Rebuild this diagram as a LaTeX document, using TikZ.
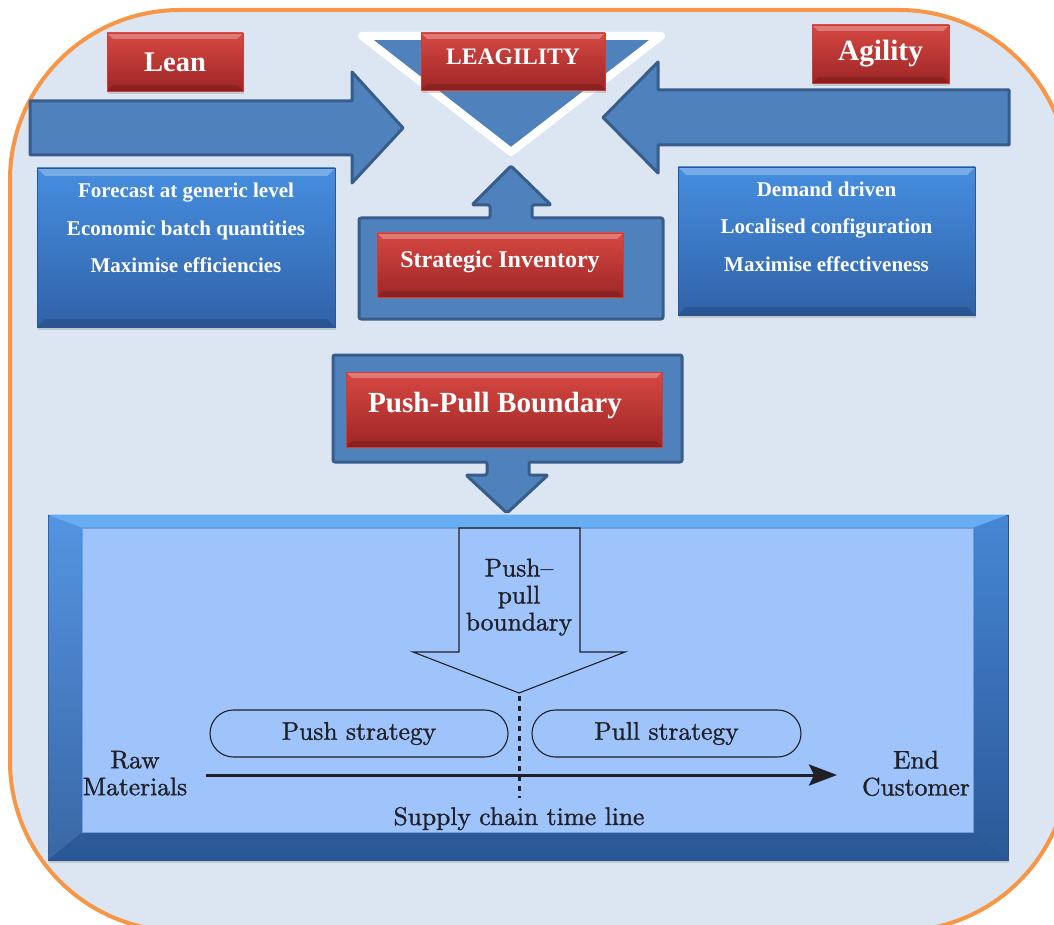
\documentclass[tikz,border=0pt]{standalone}
\usepackage{fontspec}
\newfontfamily\headfont{Liberation Serif}
\newfontfamily\diagfont[FakeBold=1.2]{lmroman10-regular.otf}
\usetikzlibrary{shadows,arrows.meta}

\definecolor{pagebg}{RGB}{220,230,242}
\definecolor{frameorange}{RGB}{247,150,70}
\definecolor{arrowblue}{RGB}{79,129,189}
\definecolor{arrowedge}{RGB}{56,93,138}
\definecolor{redtop}{RGB}{214,72,66}
\definecolor{redbot}{RGB}{158,38,38}
\definecolor{rededge}{RGB}{205,62,58}
\definecolor{bluetop}{RGB}{70,142,224}
\definecolor{bluebot}{RGB}{48,98,168}
\definecolor{blueedge}{RGB}{45,85,145}
\definecolor{frametop}{RGB}{74,142,224}
\definecolor{framebot}{RGB}{46,94,160}
\definecolor{framehi}{RGB}{104,172,242}
\definecolor{panelfill}{RGB}{158,196,251}
\definecolor{paneledge}{RGB}{115,160,225}
\definecolor{ink}{RGB}{32,32,38}

\newcommand\boldhead[2]{\headfont\bfseries\fontsize{#1}{#2}\selectfont}
\newcommand\diagsize{\diagfont\fontsize{25.5}{27}\selectfont}

\begin{document}
\begin{tikzpicture}[x=1pt,y=-1pt,
  bevel/.style={path picture={
    \fill[white,opacity=0.28] (path picture bounding box.north west) -- (path picture bounding box.north east)
      -- ([xshift=-#1,yshift=-#1]path picture bounding box.north east) -- ([xshift=#1,yshift=-#1]path picture bounding box.north west) -- cycle;
    \fill[black,opacity=0.14] (path picture bounding box.south west) -- (path picture bounding box.south east)
      -- ([xshift=-#1,yshift=#1]path picture bounding box.south east) -- ([xshift=#1,yshift=#1]path picture bounding box.south west) -- cycle;}},
  redbox/.style={rectangle, inner sep=0pt, top color=redtop, bottom color=redbot, draw=rededge,
    line width=0.8pt, text=white, bevel=6pt,
    drop shadow={shadow xshift=1pt, shadow yshift=-3pt, opacity=0.3}},
  bluebox/.style={rectangle, inner sep=0pt, top color=bluetop, bottom color=bluebot, draw=blueedge,
    line width=0.8pt, bevel=8pt,
    drop shadow={shadow xshift=1pt, shadow yshift=-3pt, opacity=0.3}},
  boxtext/.style={text=white, font={\boldhead{21}{37.5}}, align=center, inner sep=0pt, anchor=north},
  blockarrow/.style={fill=arrowblue, draw=arrowedge, line width=3pt, line join=round},
  calloutshape/.style={fill=arrowblue, draw=arrowedge, line width=3pt, line join=round, rounded corners=2pt},
  diagline/.style={draw=ink, line width=1.1pt},
  diagtext/.style={text=ink, font=\diagsize, inner sep=0pt},
  stadium/.style={diagline, rounded corners=23.5pt, text=ink, font=\diagsize, inner sep=0pt}
]
\useasboundingbox (0,0) rectangle (1054,925);

% page background with the orange rounded border
\begin{scope}
  \clip (0,0) rectangle (1054,925);
  \draw[frameorange, line width=4pt, fill=pagebg, rounded corners=170pt] (10,10) rectangle (1069,931);
\end{scope}

% block arrows converging on the leagility triangle
\draw[blockarrow] (30,101) -- (352,101) -- (352,72) -- (403,128) -- (352,183) -- (352,155) -- (30,155) -- cycle;
\draw[blockarrow] (1009,90) -- (658,90) -- (658,62) -- (603,117.5) -- (658,173) -- (658,145) -- (1009,145) -- cycle;

% leagility triangle
\draw[white, line width=8pt, fill=arrowblue, line join=round] (362,36) -- (661,36) -- (511,152) -- cycle;

% headings
\node[redbox, minimum width=184pt, minimum height=57pt, font={\boldhead{23.6}{26}}, text height=15.7pt, text depth=8.7pt]
  (leagility) at (513,61.5) {LEAGILITY};
\node[redbox, minimum width=136pt, minimum height=58pt, font={\boldhead{28.5}{30}}] (lean) at (175,62) {Lean};
\node[redbox, minimum width=137pt, minimum height=58pt, font={\boldhead{29.4}{31}}] (agility) at (880.5,54) {Agility};

% characteristic boxes
\node[bluebox, minimum width=298pt, minimum height=159pt] (leanbox) at (186,247.5) {};
\node[boxtext] (leantext) at ([yshift=-15.5pt]leanbox.north)
  {Forecast at generic level\\Economic batch quantities\\Maximise efficiencies};
\node[bluebox, minimum width=297pt, minimum height=148pt] (agilebox) at (826.5,241) {};
\node[boxtext] (agiletext) at ([yshift=-14.7pt]agilebox.north)
  {Demand driven\\Localised configuration\\Maximise effectiveness};

% strategic inventory callout
\draw[calloutshape] (359,218) -- (490,218) -- (490,205) -- (472,205) -- (511,166) -- (551,205) -- (532,205)
  -- (532,218) -- (663,218) -- (663,319) -- (359,319) -- cycle;
\node[redbox, minimum width=246pt, minimum height=64pt, font={\boldhead{24}{26}}, text height=16pt, text depth=12pt]
  (inventory) at (500,265) {Strategic Inventory};

% push-pull boundary callout
\draw[calloutshape] (333,355) -- (682,355) -- (682,462) -- (529,462) -- (529,475) -- (548,475) -- (507,513)
  -- (466,475) -- (487,475) -- (487,462) -- (333,462) -- cycle;
\node[redbox, minimum width=316pt, minimum height=75pt] (ppbox) at (504,409.5) {};
\node[text=white, font={\boldhead{29.2}{31}}, inner sep=0pt] (pptext) at ([xshift=-9pt,yshift=4.4pt]ppbox.center)
  {Push-Pull Boundary};

% supply chain panel
\node[rectangle, top color=frametop, bottom color=framebot, draw=blueedge, line width=0.8pt,
  minimum width=960pt, minimum height=345pt, drop shadow={shadow xshift=1pt, shadow yshift=-3pt, opacity=0.3}]
  (panel) at (528,687.5) {};
\node[rectangle, fill=panelfill, draw=paneledge, line width=1pt, minimum width=891pt, minimum height=304pt]
  (panelin) at (527.5,680) {};
\fill[framehi] (panel.north west) -- (panel.north east) -- (panelin.north east) -- (panelin.north west) -- cycle;
\fill[white, opacity=0.06] (panel.north west) -- (panelin.north west) -- (panelin.south west) -- (panel.south west) -- cycle;
\fill[black, opacity=0.05] (panel.north east) -- (panelin.north east) -- (panelin.south east) -- (panel.south east) -- cycle;
\fill[black, opacity=0.07] (panel.south west) -- (panelin.south west) -- (panelin.south east) -- (panel.south east) -- cycle;

% push-pull boundary arrow inside the panel
\draw[diagline, line join=miter] (459,528) -- (580,528) -- (580,652) -- (625,652) -- (519,693) -- (413,652) -- (459,652) -- cycle;
\coordinate (boundtip) at (519,693);
\node[diagtext, align=center, anchor=north] (boundtext) at (519,558.5) {Push–\\pull\\boundary};

% boundary marker and time line
\coordinate (markend) at (519,798);
\draw[ink, line width=3pt, dash pattern=on 5pt off 5pt] ([yshift=-3pt]boundtip) -- (markend);
\coordinate (linestart) at (206,775);
\coordinate (lineend) at (837,775);
\draw[ink, line width=3pt, -{Stealth[length=28pt,width=21pt,inset=5pt]}] (linestart) -- (lineend);

% strategies and labels
\node[stadium, minimum width=298pt, minimum height=47pt] (pushstrat) at (359,733.5) {Push strategy};
\node[stadium, minimum width=269pt, minimum height=47pt] (pullstrat) at (666.5,733.5) {Pull strategy};
\node[diagtext, align=center, anchor=north] (rawmat) at (135,750.6) {Raw\\Materials};
\node[diagtext, align=center, anchor=north] (endcust) at (916,750.6) {End\\Customer};
\node[diagtext, anchor=base] (timeline) at (519,825) {Supply chain time line};
\end{tikzpicture}
\end{document}
